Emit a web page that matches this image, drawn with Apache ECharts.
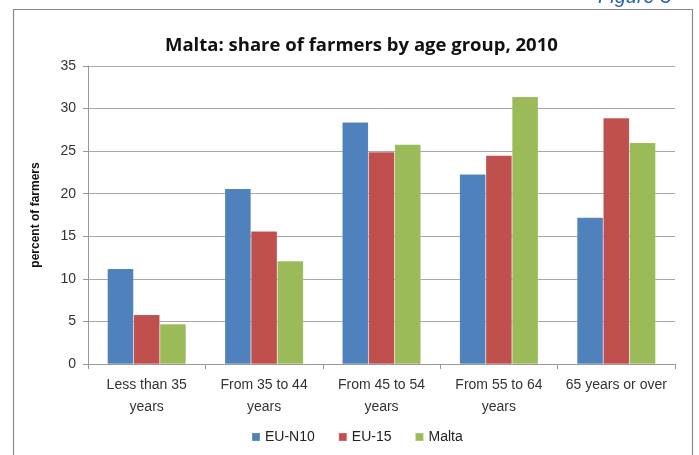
<!DOCTYPE html>
<html>
<head>
<meta charset="utf-8">
<script src="https://cdn.jsdelivr.net/npm/echarts@6/dist/echarts.min.js"></script>
<style>
html,body{margin:0;padding:0;background:#fff;}
#chart{width:699px;height:455px;}
</style>
</head>
<body>
<div id="chart"></div>
<script>
var categories = ['Less than 35\nyears', 'From 35 to 44\nyears', 'From 45 to 54\nyears', 'From 55 to 64\nyears', '65 years or over'];
var euN10 = [11.2, 20.6, 28.4, 22.3, 17.2];
var eu15 = [5.8, 15.6, 24.9, 24.5, 28.9];
var malta = [4.7, 12.1, 25.8, 31.4, 26.0];
var yTicks = [0, 5, 10, 15, 20, 25, 30, 35];

var font = 'Liberation Sans';
var chart = echarts.init(document.getElementById('chart'));
function barSeries(name, data, color) {
  return {
    name: name, type: 'bar', data: data, barGap: '0%', barCategoryGap: '33%',
    itemStyle: { color: color, borderColor: 'rgba(255,255,255,0.15)', borderWidth: 0.6 },
    emphasis: { disabled: true }
  };
}
chart.setOption({
  animation: false,
  textStyle: { fontFamily: font },
  graphic: [
    { type: 'rect', shape: { x: 13.5, y: 9.5, width: 679, height: 460 },
      style: { fill: 'none', stroke: '#8a8a8a', lineWidth: 1.2 }, silent: true },
    { type: 'text', left: 598, top: -13,
      style: { text: 'Figure 3', fill: '#2e64a8', font: 'italic 20px ' + font }, silent: true }
  ],
  title: {
    text: 'Malta: share of farmers by age group, 2010',
    left: 160, top: 31,
    textStyle: { fontFamily: 'Open Sans', fontWeight: 'bold', fontSize: 18.5, color: '#111' }
  },
  legend: {
    bottom: 6, left: 246, itemWidth: 8, itemHeight: 8, itemGap: 23,
    icon: 'rect',
    textStyle: { fontFamily: font, fontSize: 14, color: '#222' },
    data: ['EU-N10', 'EU-15', 'Malta']
  },
  grid: { left: 88, right: 24, top: 66, bottom: 91 },
  xAxis: {
    type: 'category', data: categories,
    axisLine: { lineStyle: { color: '#999' } },
    axisTick: { show: true, length: 5, lineStyle: { color: '#999' } },
    axisLabel: { interval: 0, color: '#333', fontSize: 14, lineHeight: 22, margin: 10 }
  },
  yAxis: {
    type: 'value', min: 0, max: 35, interval: 5,
    name: 'percent of farmers', nameLocation: 'middle', nameGap: 46, nameRotate: 90,
    nameTextStyle: { fontFamily: font, fontWeight: 'bold', fontSize: 12, color: '#111' },
    axisLine: { show: true, lineStyle: { color: '#999' } },
    axisTick: { show: true, length: 5, lineStyle: { color: '#999' } },
    splitLine: { lineStyle: { color: '#a8a8a8' } },
    axisLabel: { color: '#333', fontSize: 14, margin: 12,
      formatter: function (v) { return yTicks.indexOf(v) >= 0 ? String(v) : ''; } }
  },
  series: [
    barSeries('EU-N10', euN10, '#4f81bd'),
    barSeries('EU-15', eu15, '#c0504d'),
    barSeries('Malta', malta, '#9bbb59')
  ]
});
</script>
</body>
</html>
